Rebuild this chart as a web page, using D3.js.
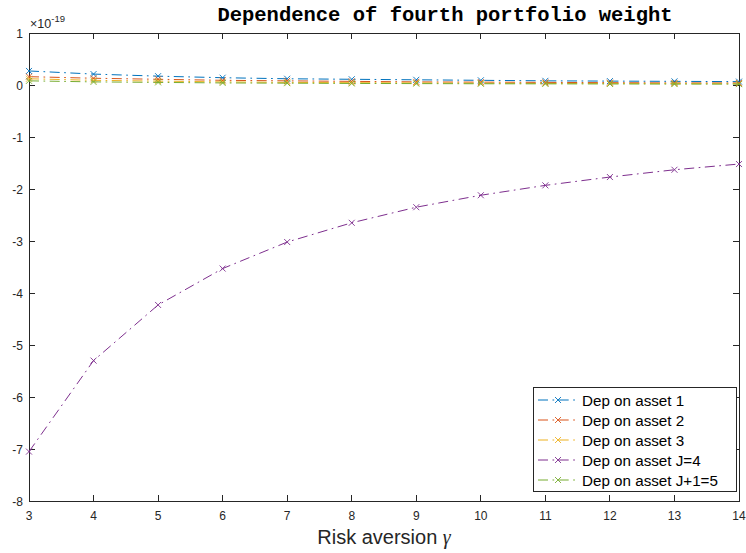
<!DOCTYPE html>
<html>
<head>
<meta charset="utf-8">
<script src="https://cdn.jsdelivr.net/npm/d3@7"></script>
<style>
  body { margin: 0; background: #fff; }
  svg { display: block; font-family: "Liberation Sans", Arial, Helvetica, sans-serif; }
</style>
</head>
<body>
<div id="chart"></div>
<script>
// Risk aversion values on the x axis
const gammas = [3, 4, 5, 6, 7, 8, 9, 10, 11, 12, 13, 14]

// Dependence values, in units of 1e-19
const depAsset1 = [0.27, 0.21, 0.17, 0.14, 0.12, 0.11, 0.10, 0.09, 0.08, 0.075, 0.07, 0.065]
const depAsset2 = [0.16, 0.13, 0.11, 0.09, 0.08, 0.07, 0.06, 0.055, 0.05, 0.045, 0.04, 0.04]
const depAsset3 = [0.12, 0.09, 0.075, 0.06, 0.05, 0.045, 0.04, 0.035, 0.03, 0.03, 0.027, 0.025]
const depAssetJ = [-7.05, -5.30, -4.23, -3.53, -3.02, -2.65, -2.35, -2.12, -1.93, -1.77, -1.63, -1.52]
const depAssetJ1 = [0.08, 0.06, 0.05, 0.04, 0.035, 0.03, 0.027, 0.024, 0.022, 0.02, 0.018, 0.017]

const seriesNames = ['Dep on asset 1', 'Dep on asset 2', 'Dep on asset 3', 'Dep on asset J=4', 'Dep on asset J+1=5']
const seriesValues = [depAsset1, depAsset2, depAsset3, depAssetJ, depAssetJ1]
const seriesColors = ['#0072BD', '#D95319', '#EDB120', '#7E2F8E', '#77AC30']

const xTicks = [3, 4, 5, 6, 7, 8, 9, 10, 11, 12, 13, 14]
const yTicks = [-8, -7, -6, -5, -4, -3, -2, -1, 0, 1]

const width = 746
const height = 553
const plotLeft = 29, plotRight = 739, plotTop = 33, plotBottom = 501
const tickLen = 6
const dashes = '10,4.5,1.7,4.5'
const axisColor = '#262626'

const svg = d3.select('#chart').append('svg')
    .attr('width', width)
    .attr('height', height)

const x = d3.scaleLinear().domain([3, 14]).range([plotLeft, plotRight])
const y = d3.scaleLinear().domain([-8, 1]).range([plotBottom, plotTop])

// Frame
svg.append('rect')
    .attr('x', plotLeft).attr('y', plotTop)
    .attr('width', plotRight - plotLeft).attr('height', plotBottom - plotTop)
    .attr('fill', 'none')
    .attr('stroke', axisColor)
    .attr('stroke-width', 1)
    .attr('shape-rendering', 'crispEdges')

// Ticks on all four sides, pointing inward
const ticks = svg.append('g')
    .attr('stroke', axisColor)
    .attr('stroke-width', 1)
    .attr('shape-rendering', 'crispEdges')
xTicks.forEach(t => {
    ticks.append('line').attr('x1', x(t)).attr('x2', x(t)).attr('y1', plotBottom).attr('y2', plotBottom - tickLen)
    ticks.append('line').attr('x1', x(t)).attr('x2', x(t)).attr('y1', plotTop).attr('y2', plotTop + tickLen)
})
yTicks.forEach(t => {
    ticks.append('line').attr('x1', plotLeft).attr('x2', plotLeft + tickLen).attr('y1', y(t)).attr('y2', y(t))
    ticks.append('line').attr('x1', plotRight).attr('x2', plotRight - tickLen).attr('y1', y(t)).attr('y2', y(t))
})

// Tick labels
svg.append('g').selectAll('text')
    .data(xTicks).enter().append('text')
    .attr('x', d => x(d))
    .attr('y', plotBottom + 19)
    .attr('text-anchor', 'middle')
    .attr('font-size', 12)
    .attr('fill', axisColor)
    .text(d => d)

svg.append('g').selectAll('text')
    .data(yTicks).enter().append('text')
    .attr('x', plotLeft - 6)
    .attr('y', d => y(d) + 4.5)
    .attr('text-anchor', 'end')
    .attr('font-size', 12)
    .attr('fill', axisColor)
    .text(d => d)

// Exponent label
const expo = svg.append('text')
    .attr('x', plotLeft + 1)
    .attr('y', plotTop - 5)
    .attr('font-size', 12.5)
    .attr('fill', axisColor)
expo.append('tspan').text('\u00d710')
expo.append('tspan').attr('dy', -6).attr('font-size', 9.5).text('-19')

// Title
svg.append('text')
    .attr('x', 445)
    .attr('y', 21)
    .attr('text-anchor', 'middle')
    .attr('font-family', '"Liberation Mono", "Courier New", monospace')
    .attr('font-weight', 'bold')
    .attr('font-size', 20.5)
    .attr('fill', '#000')
    .text('Dependence of fourth portfolio weight')

// X axis label
const xl = svg.append('text')
    .attr('x', 384)
    .attr('y', 544)
    .attr('text-anchor', 'middle')
    .attr('font-size', 20)
    .attr('fill', axisColor)
xl.append('tspan').text('Risk aversion ')
xl.append('tspan')
    .attr('font-family', '"Liberation Serif", "Times New Roman", serif')
    .attr('font-style', 'italic')
    .text('\u03b3')

// Series
const line = d3.line()
    .x((d, i) => x(gammas[i]))
    .y(d => y(d))

function drawX(g, cx, cy, color) {
    const s = 3
    g.append('path')
        .attr('d', `M${cx - s},${cy - s}L${cx + s},${cy + s}M${cx - s},${cy + s}L${cx + s},${cy - s}`)
        .attr('stroke', color)
        .attr('stroke-width', 0.9)
        .attr('fill', 'none')
}

seriesValues.forEach((vals, k) => {
    const g = svg.append('g')
    g.append('path')
        .attr('d', line(vals))
        .attr('fill', 'none')
        .attr('stroke', seriesColors[k])
        .attr('stroke-width', 1)
        .attr('stroke-dasharray', dashes)
    vals.forEach((v, i) => drawX(g, x(gammas[i]), y(v), seriesColors[k]))
})

// Legend
const legX = 533, legY = 387, legW = 203, legH = 104
const legend = svg.append('g')
legend.append('rect')
    .attr('x', legX).attr('y', legY)
    .attr('width', legW).attr('height', legH)
    .attr('fill', '#fff')
    .attr('stroke', axisColor)
    .attr('stroke-width', 1)
    .attr('shape-rendering', 'crispEdges')

seriesNames.forEach((name, k) => {
    const ry = legY + 13 + k * 20
    legend.append('line')
        .attr('x1', legX + 5).attr('x2', legX + 43)
        .attr('y1', ry).attr('y2', ry)
        .attr('stroke', seriesColors[k])
        .attr('stroke-width', 1)
        .attr('stroke-dasharray', dashes)
    drawX(legend, legX + 25, ry, seriesColors[k])
    legend.append('text')
        .attr('x', legX + 49)
        .attr('y', ry + 5.5)
        .attr('font-size', 15.2)
        .attr('fill', '#000')
        .text(name)
})
</script>
</body>
</html>
